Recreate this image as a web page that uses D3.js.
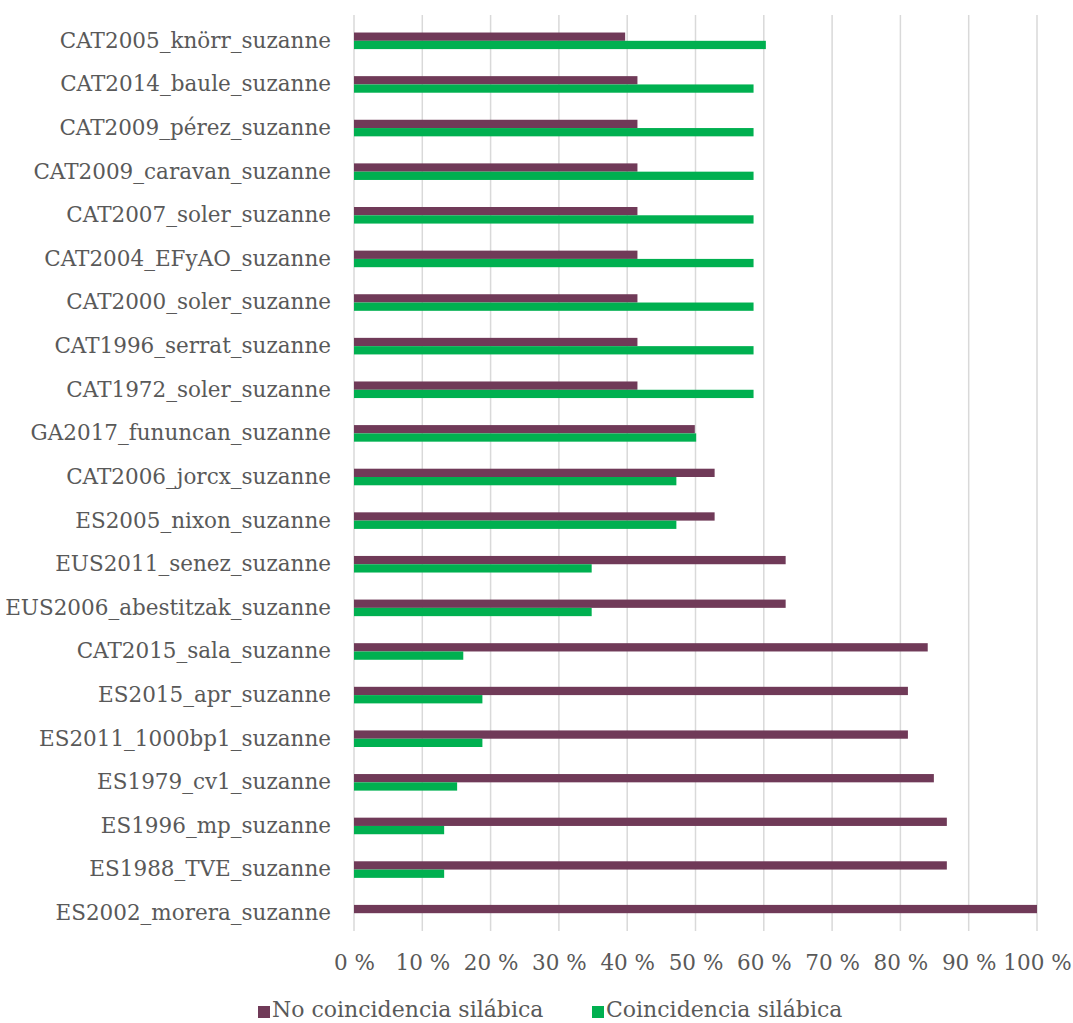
<!DOCTYPE html>
<html>
<head>
<meta charset="utf-8">
<script src="https://cdn.jsdelivr.net/npm/d3@7"></script>
<style>
  html, body { margin: 0; padding: 0; background: #ffffff; }
  svg { display: block; }
  text { font-family: "DejaVu Serif", "Liberation Serif", serif; fill: #595959; }
</style>
</head>
<body>
<svg id="chart" width="1073" height="1023"></svg>
<script>
// Versions of "Suzanne", top to bottom
const categories = [
  "CAT2005_knörr_suzanne",
  "CAT2014_baule_suzanne",
  "CAT2009_pérez_suzanne",
  "CAT2009_caravan_suzanne",
  "CAT2007_soler_suzanne",
  "CAT2004_EFyAO_suzanne",
  "CAT2000_soler_suzanne",
  "CAT1996_serrat_suzanne",
  "CAT1972_soler_suzanne",
  "GA2017_fununcan_suzanne",
  "CAT2006_jorcx_suzanne",
  "ES2005_nixon_suzanne",
  "EUS2011_senez_suzanne",
  "EUS2006_abestitzak_suzanne",
  "CAT2015_sala_suzanne",
  "ES2015_apr_suzanne",
  "ES2011_1000bp1_suzanne",
  "ES1979_cv1_suzanne",
  "ES1996_mp_suzanne",
  "ES1988_TVE_suzanne",
  "ES2002_morera_suzanne"
];

// Percentages of syllabic non-coincidence
const noCoincidencia = [
  39.7, 41.5, 41.5, 41.5, 41.5, 41.5, 41.5, 41.5, 41.5,
  49.9, 52.8, 52.8, 63.2, 63.2, 84.0, 81.1, 81.1, 84.9, 86.8, 86.8, 100
];

// Percentages of syllabic coincidence
const coincidencia = [
  60.3, 58.5, 58.5, 58.5, 58.5, 58.5, 58.5, 58.5, 58.5,
  50.1, 47.2, 47.2, 34.8, 34.8, 16.0, 18.8, 18.8, 15.1, 13.2, 13.2, 0
];

const tickValues = [0, 10, 20, 30, 40, 50, 60, 70, 80, 90, 100];
const seriesNames = ["No coincidencia silábica", "Coincidencia silábica"];
const seriesColors = ["#703A58", "#00B050"];

const fontSize = "21.5px";

const svg = d3.select("#chart");

const plot = { left: 354, right: 1037, top: 15, bottom: 931 };

const x = d3.scaleLinear().domain([0, 100]).range([plot.left, plot.right]);

// Bars sit slightly below the band centres of the gridline area
const y = d3.scaleBand()
  .domain(categories)
  .range([plot.top + 4, plot.bottom + 4])
  .paddingInner(0.62)
  .paddingOuter(0.31);

const sub = d3.scaleBand()
  .domain([0, 1])
  .range([0, y.bandwidth()]);

// Vertical gridlines
svg.append("g")
  .selectAll("line")
  .data(tickValues)
  .join("line")
  .attr("x1", d => x(d))
  .attr("x2", d => x(d))
  .attr("y1", plot.top)
  .attr("y2", plot.bottom)
  .attr("stroke", "#D9D9D9")
  .attr("stroke-width", 1.5);

// Bars
const rows = categories.map((c, i) => ({ c, vals: [noCoincidencia[i], coincidencia[i]] }));

svg.append("g")
  .selectAll("g")
  .data(rows)
  .join("g")
  .attr("transform", d => `translate(0,${y(d.c)})`)
  .selectAll("rect")
  .data(d => d.vals.map((v, s) => ({ v, s })))
  .join("rect")
  .attr("x", x(0))
  .attr("y", d => sub(d.s))
  .attr("width", d => x(d.v) - x(0))
  .attr("height", sub.bandwidth())
  .attr("fill", d => seriesColors[d.s]);

// Category labels
const yAxis = d3.axisLeft(y).tickSize(0).tickPadding(23);
const gy = svg.append("g")
  .attr("transform", `translate(${plot.left},0)`)
  .call(yAxis);
gy.select(".domain").remove();
gy.selectAll("text")
  .attr("font-family", null)
  .attr("fill", null)
  .style("font-size", fontSize);

// Percentage axis
const xAxis = d3.axisBottom(x)
  .tickValues(tickValues)
  .tickSize(0)
  .tickPadding(24)
  .tickFormat(d => d + " %");
const gx = svg.append("g")
  .attr("transform", `translate(0,${plot.bottom})`)
  .call(xAxis);
gx.select(".domain").remove();
gx.selectAll("text")
  .attr("font-family", null)
  .attr("fill", null)
  .style("font-size", fontSize);

// Legend
const legendItems = [
  { name: seriesNames[0], color: seriesColors[0], x: 258 },
  { name: seriesNames[1], color: seriesColors[1], x: 592 }
];
const lg = svg.append("g")
  .selectAll("g")
  .data(legendItems)
  .join("g")
  .attr("transform", d => `translate(${d.x},1005)`);
lg.append("rect")
  .attr("y", 1)
  .attr("width", 12)
  .attr("height", 12)
  .attr("fill", d => d.color);
lg.append("text")
  .attr("x", 14)
  .attr("y", 12)
  .style("font-size", "22px")
  .text(d => d.name);
</script>
</body>
</html>
